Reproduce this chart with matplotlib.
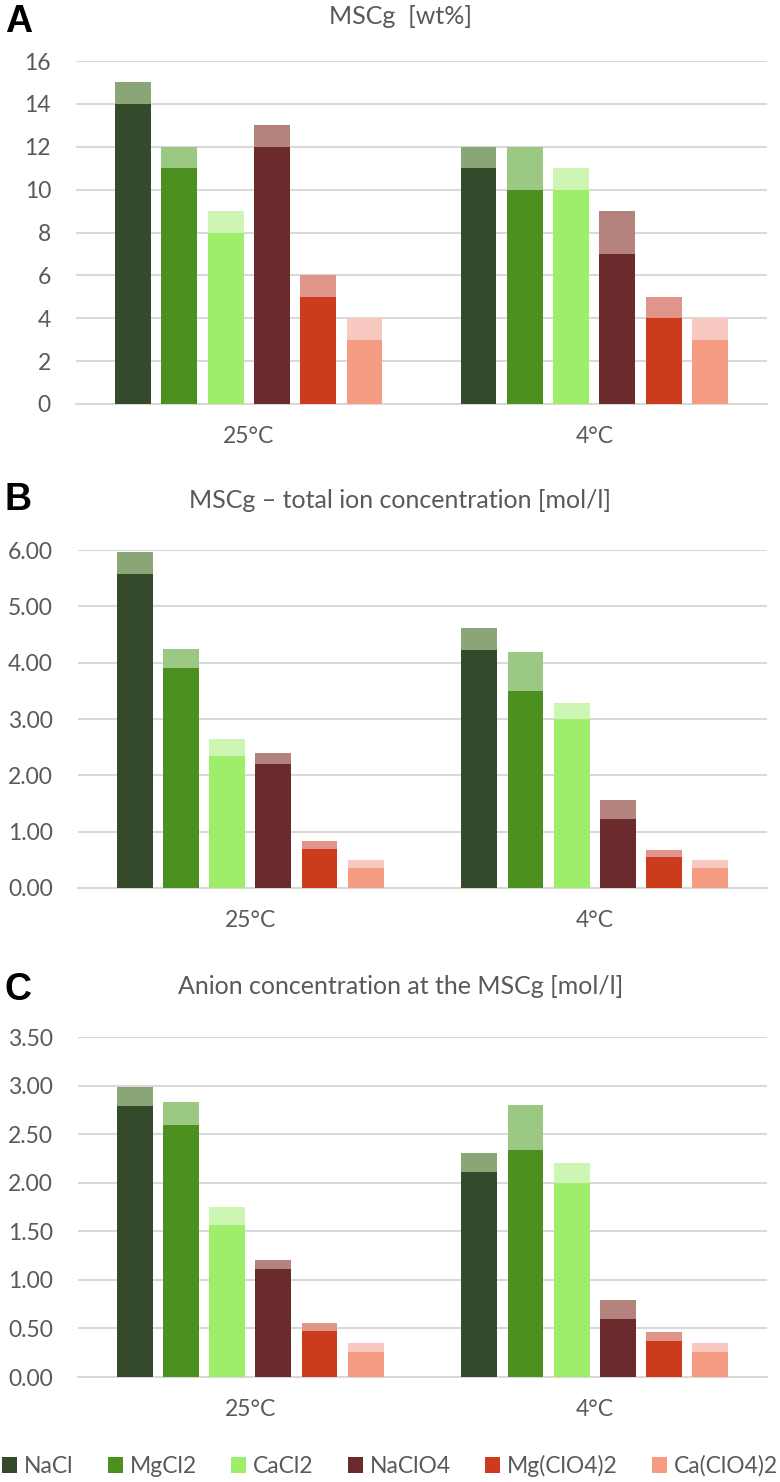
import matplotlib
matplotlib.use('Agg')
import matplotlib.pyplot as plt
from matplotlib.patches import Patch
import numpy as np

plt.rcParams['font.family'] = ['Lato', 'DejaVu Sans']

salts = ['NaCl', 'MgCl2', 'CaCl2', 'NaClO4', 'Mg(ClO4)2', 'Ca(ClO4)2']
temps = ['25°C', '4°C']
base_colors = ['#354A2A', '#4C911F', '#9FEE6B', '#6B2A2C', '#CC3B1C', '#F59C82']
top_colors = ['#8AA677', '#9BC984', '#CDF6B5', '#B5837E', '#E0948A', '#F8C9C0']

# panel A: MSCg wt% (lower / upper bound), rows = salts, cols = 25°C, 4°C
a_low = [[14, 11], [11, 10], [8, 10], [12, 7], [5, 4], [3, 3]]
a_high = [[15, 12], [12, 12], [9, 11], [13, 9], [6, 5], [4, 4]]

# panel B: total ion concentration mol/l
b_low = [[5.57, 4.23], [3.90, 3.50], [2.34, 3.00], [2.21, 1.22], [0.69, 0.55], [0.36, 0.36]]
b_high = [[5.96, 4.62], [4.24, 4.19], [2.64, 3.29], [2.40, 1.57], [0.83, 0.68], [0.49, 0.49]]

# panel C: anion concentration mol/l
c_low = [[2.79, 2.11], [2.59, 2.34], [1.56, 2.00], [1.11, 0.60], [0.47, 0.37], [0.26, 0.26]]
c_high = [[2.99, 2.31], [2.83, 2.80], [1.75, 2.20], [1.20, 0.79], [0.56, 0.46], [0.35, 0.35]]

W, H = 780, 1482
# (letter, title, low, high, ticks, fmt, ymax, left px, top px, bottom px, title y px, letter y px)
panels = [
    ('A', 'MSCg  [wt%]', a_low, a_high, np.arange(0, 17, 2), '{:.0f}', 16, 76, 61, 404, 16, 22),
    ('B', 'MSCg \u2013 total ion concentration [mol/l]', b_low, b_high, np.arange(0, 6.01, 1), '{:.2f}', 6,
     78, 550, 888, 500, 500),
    ('C', 'Anion concentration at the MSCg [mol/l]', c_low, c_high, np.arange(0, 3.51, 0.5), '{:.2f}', 3.5,
     78, 1037, 1377, 987, 990),
]

fig = plt.figure(figsize=(W / 100, H / 100), dpi=100)
txt = '#595959'
grid = '#D9D9D9'
width = 0.104
step = 0.134
x = np.arange(len(temps))

for letter, title, low, high, ticks, fmt, ymax, left, top, bottom, ty, ly in panels:
    ax = fig.add_axes([left / W, 1 - bottom / H, (767 - left) / W, (bottom - top) / H])
    for i, s in enumerate(salts):
        pos = x + (i - 2.5) * step
        lo = np.array(low[i])
        hi = np.array(high[i])
        ax.bar(pos, lo, width, color=base_colors[i], zorder=3)
        ax.bar(pos, hi - lo, width, bottom=lo, color=top_colors[i], zorder=3)
    ax.set_xlim(-0.5, 1.5)
    ax.set_ylim(0, ymax)
    ax.set_yticks(ticks)
    ax.set_yticklabels([fmt.format(t) for t in ticks], color=txt, fontsize=16.5)
    ax.set_xticks(x)
    ax.set_xticklabels(temps, color=txt, fontsize=16.5)
    ax.tick_params(axis='y', length=0, pad=18)
    ax.tick_params(axis='x', length=0, pad=16)
    ax.yaxis.grid(True, color=grid, linewidth=1.5, zorder=0)
    for sp in ['top', 'right', 'left']:
        ax.spines[sp].set_visible(False)
    ax.spines['bottom'].set_color(grid)
    ax.spines['bottom'].set_linewidth(1.5)
    fig.text(0.513, 1 - ty / H, title, ha='center', va='center', color=txt, fontsize=18)
    fig.text(0.006, 1 - ly / H, letter, ha='left', va='center', color='black',
             fontsize=27, fontweight='bold', family='Liberation Sans')

handles = [Patch(facecolor=c, edgecolor='none') for c in base_colors]
fig.legend(handles, salts, loc='center', bbox_to_anchor=(0.5, 1 - 1466 / H), ncol=6,
           frameon=False, fontsize=16.5, handlelength=0.65, handleheight=0.65,
           handletextpad=0.3, columnspacing=1.5, borderpad=0.1, labelcolor=txt)

fig.savefig('out.png', dpi=100)
